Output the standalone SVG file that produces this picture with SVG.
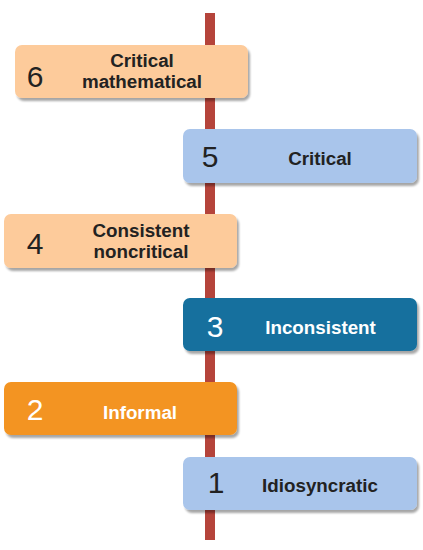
<svg xmlns="http://www.w3.org/2000/svg" width="423" height="550" viewBox="0 0 423 550">
<defs>
<filter id="sh" x="-5%" y="-10%" width="115%" height="135%">
<feGaussianBlur in="SourceAlpha" stdDeviation="1.2"/>
<feOffset dx="2" dy="2.5" result="o"/>
<feComponentTransfer><feFuncA type="linear" slope="0.35"/></feComponentTransfer>
<feMerge><feMergeNode/><feMergeNode in="SourceGraphic"/></feMerge>
</filter>
<style>
.box{filter:url(#sh)}
.peach{fill:#FDCB9B}
.lblue{fill:#A9C5EB}
.teal{fill:#12709E}
.orange{fill:#F39420}
.num{font-family:"Liberation Sans",Arial,sans-serif;font-size:30px;text-anchor:middle;fill:#222}
.lbl{font-family:"Liberation Sans",Arial,sans-serif;font-size:18.8px;font-weight:bold;text-anchor:middle;fill:#222}
.w{fill:#fff}
</style>
</defs>
<rect width="423" height="550" fill="#fff"/>
<g id="connectors">
<rect x="205" y="13" width="10" height="527" fill="#B5443B"/>
</g>
<g id="node6">
<rect class="box peach" x="15" y="45" width="233" height="53" rx="7"/>
<text class="num" x="35" y="87">6</text>
<text class="lbl" x="142" y="67">Critical</text>
<text class="lbl" x="142" y="88">mathematical</text>
</g>
<g id="node5">
<rect class="box lblue" x="183" y="129" width="234" height="54" rx="7"/>
<text class="num" x="210" y="167">5</text>
<text class="lbl" x="320" y="165">Critical</text>
</g>
<g id="node4">
<rect class="box peach" x="4" y="214" width="233" height="54" rx="7"/>
<text class="num" x="35" y="254">4</text>
<text class="lbl" x="141" y="237">Consistent</text>
<text class="lbl" x="141" y="258">noncritical</text>
</g>
<g id="node3">
<rect class="box teal" x="183" y="298" width="234" height="53" rx="7"/>
<text class="num w" x="215" y="337">3</text>
<text class="lbl w" x="320.5" y="334">Inconsistent</text>
</g>
<g id="node2">
<rect class="box orange" x="4" y="382" width="233" height="53" rx="7"/>
<text class="num w" x="35" y="420">2</text>
<text class="lbl w" x="140" y="419">Informal</text>
</g>
<g id="node1">
<rect class="box lblue" x="183" y="457" width="234" height="53" rx="7"/>
<text class="num" x="216" y="493">1</text>
<text class="lbl" x="320" y="492">Idiosyncratic</text>
</g>
</svg>
